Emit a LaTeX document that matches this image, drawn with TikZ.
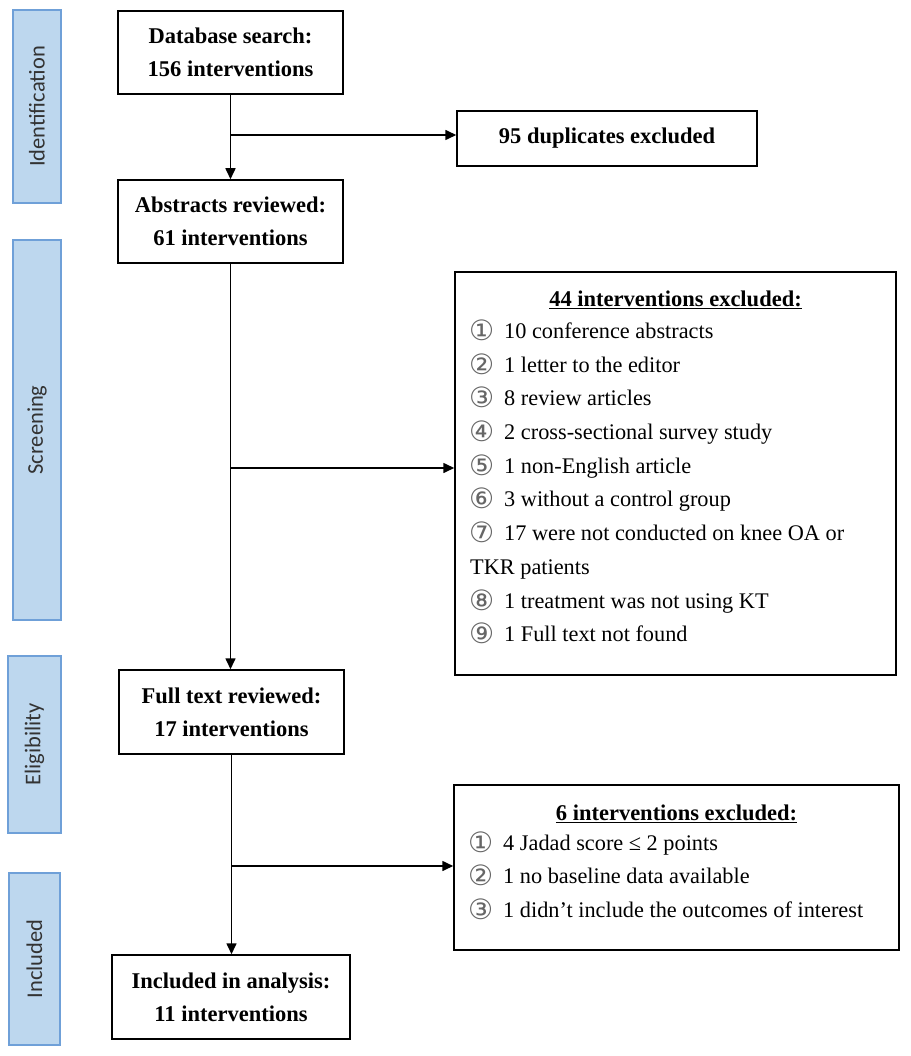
\documentclass[tikz,border=0pt]{standalone}
\usepackage{fontspec}
\setmainfont{Liberation Serif}
\newfontfamily\sidefont{Carlito}
\newfontfamily\circfont{DejaVu Sans}
\usetikzlibrary{arrows.meta}
\definecolor{sidefill}{HTML}{BDD7EE}
\definecolor{sideline}{HTML}{6FA0D8}
\definecolor{sidetext}{HTML}{333333}
\newcommand{\cn}[1]{\makebox[34pt][l]{\circfont\color{black!60}\fontsize{28}{28}\selectfont\raisebox{-2.5pt}{\hspace{-1pt}#1}}}
\begin{document}
\begin{tikzpicture}[x=1pt,y=-1pt,
  side/.style={draw=sideline,fill=sidefill,line width=2.2pt},
  sidelab/.style={rotate=90,font=\sidefont\fontsize{22.5}{26}\selectfont,text=sidetext},
  mainbox/.style={draw,line width=1.5pt,align=center,inner sep=0pt,
    font=\bfseries\fontsize{22.5}{33}\selectfont},
  exbox/.style={draw,line width=1.5pt,inner sep=0pt},
  itemtxt/.style={anchor=base west,inner sep=0pt,font=\fontsize{22.3}{26}\selectfont},
  arr/.style={line width=1.6pt,-{Triangle[length=11pt,width=10pt]}}]
\useasboundingbox (0,0) rectangle (910,1056);
% side bars
\draw[side] (13,10) rectangle (61,203);
\node[sidelab] (lid) at (37,106.5) {Identification};
\draw[side] (13,240) rectangle (61,620);
\node[sidelab] (lsc) at (37,430) {Screening};
\draw[side] (8,656) rectangle (61,833);
\node[sidelab] (lel) at (34.5,744.5) {Eligibility};
\draw[side] (9,873) rectangle (60,1045);
\node[sidelab] (lin) at (34.5,959) {Included};
% main boxes
\node[mainbox,minimum width=225pt,minimum height=83pt] (b1) at (230.5,52.5) {Database search:\\156 interventions};
\node[mainbox,minimum width=225pt,minimum height=83pt] (b2) at (230.5,221.5) {Abstracts reviewed:\\61 interventions};
\node[mainbox,minimum width=225pt,minimum height=84pt] (b3) at (231.5,712) {Full text reviewed:\\17 interventions};
\node[mainbox,minimum width=238pt,minimum height=84pt] (b4) at (231,997) {Included in analysis:\\11 interventions};
% exclusion boxes
\node[mainbox,minimum width=300pt,minimum height=55pt] (d1) at (607,138.5) {95 duplicates excluded};
\node[exbox,minimum width=441pt,minimum height=403pt] (d2) at (675.5,473.5) {};
\node[exbox,minimum width=445pt,minimum height=165pt] (d3) at (676.5,867.5) {};
% box 2 text
\node[anchor=base,inner sep=0pt,font=\bfseries\fontsize{22.5}{26}\selectfont] (t2) at (675.5,306) {\underline{44 interventions excluded:}};
\node[itemtxt] (i1) at (470,338) {\cn{①}10 conference abstracts};
\node[itemtxt] (i2) at (470,372) {\cn{②}1 letter to the editor};
\node[itemtxt] (i3) at (470,405) {\cn{③}8 review articles};
\node[itemtxt] (i4) at (470,439) {\cn{④}2 cross-sectional survey study};
\node[itemtxt] (i5) at (470,473) {\cn{⑤}1 non-English article};
\node[itemtxt] (i6) at (470,506) {\cn{⑥}3 without a control group};
\node[itemtxt] (i7) at (470,540) {\cn{⑦}17 were not conducted on knee OA or};
\node[itemtxt] (i7b) at (470,574) {TKR patients};
\node[itemtxt] (i8) at (470,608) {\cn{⑧}1 treatment was not using KT};
\node[itemtxt] (i9) at (470,641) {\cn{⑨}1 Full text not found};
% box 3 text
\node[anchor=base,inner sep=0pt,font=\bfseries\fontsize{22.5}{26}\selectfont] (t3) at (676.5,820) {\underline{6 interventions excluded:}};
\node[itemtxt] (j1) at (469,850) {\cn{①}4 Jadad score ≤ 2 points};
\node[itemtxt] (j2) at (469,883) {\cn{②}1 no baseline data available};
\node[itemtxt] (j3) at (469,917) {\cn{③}1 didn’t include the outcomes of interest};
% connectors
\coordinate (c1) at (230.5,135);
\coordinate (c2) at (230.5,468);
\coordinate (c3) at (231,866);
\draw[arr] (b1.south) -- (b2.north);
\draw[arr] (c1) -- (c1 -| d1.west);
\draw[arr] (b2.south) -- (b2.south |- b3.north);
\draw[arr] (c2) -- (c2 -| d2.west);
\draw[arr] (b3.south) -- (b3.south |- b4.north);
\draw[arr] (c3) -- (c3 -| d3.west);
\end{tikzpicture}
\end{document}
